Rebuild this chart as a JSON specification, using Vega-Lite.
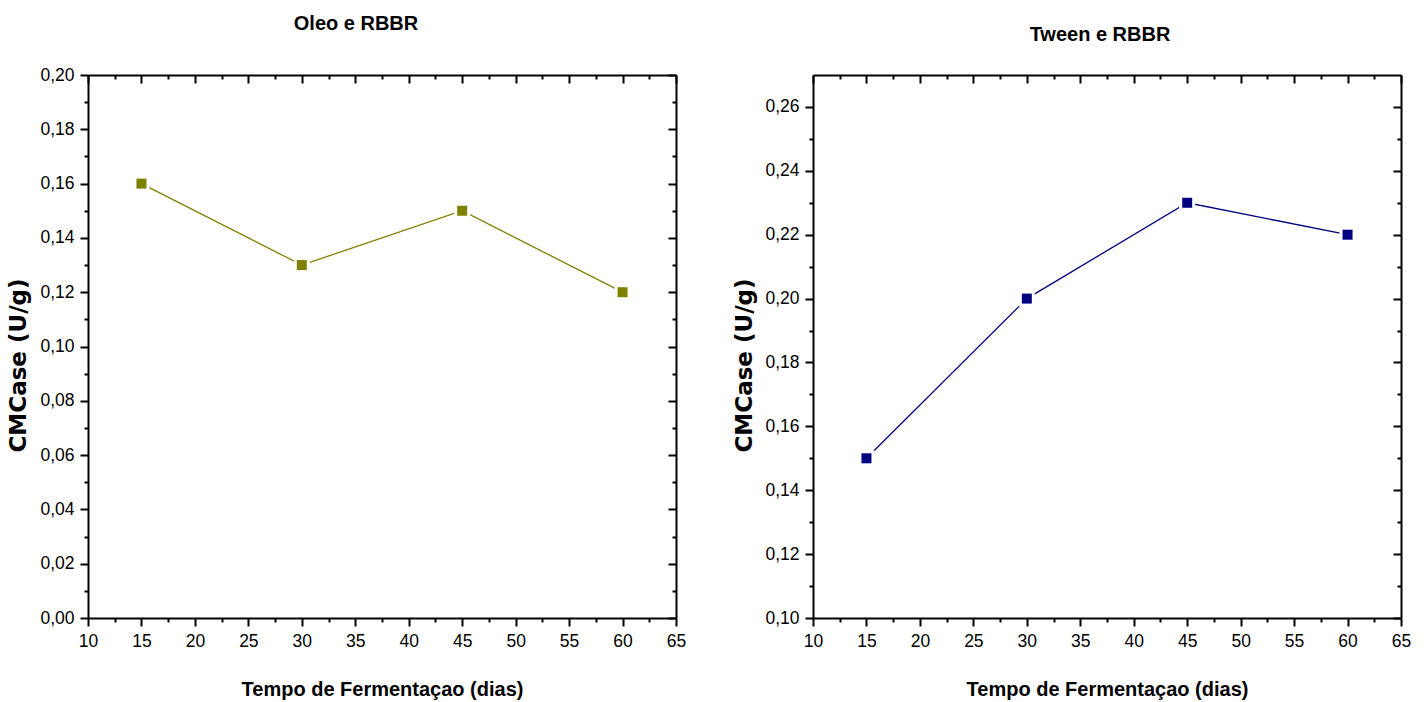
{
  "$schema": "https://vega.github.io/schema/vega-lite/v6.json",
  "background": "white",
  "padding": {"left": 7, "top": 14, "right": 5, "bottom": 5},
  "datasets": {
    "oleo": [
      {"dias": 15, "cmcase": 0.16},
      {"dias": 30, "cmcase": 0.13},
      {"dias": 45, "cmcase": 0.15},
      {"dias": 60, "cmcase": 0.12}
    ],
    "tween": [
      {"dias": 15, "cmcase": 0.15},
      {"dias": 30, "cmcase": 0.20},
      {"dias": 45, "cmcase": 0.23},
      {"dias": 60, "cmcase": 0.22}
    ]
  },
  "spacing": 137,
  "bounds": "flush",
  "config": {
    "view": {"stroke": null},
    "axis": {
      "grid": false,
      "domainColor": "black",
      "domainWidth": 2,
      "tickColor": "black",
      "tickWidth": 2,
      "labelColor": "black",
      "labelFont": "Liberation Sans",
      "labelFontSize": 17.5,
      "titleColor": "black"
    },
    "title": {"font": "Liberation Sans", "fontSize": 20, "fontWeight": "bold", "color": "black", "baseline": "alphabetic", "frame": "group", "anchor": "middle"}
  },
  "hconcat": [
    {
      "width": 588,
      "height": 543,
      "title": {"text": "Oleo e RBBR", "offset": 32, "dx": -26},
      "data": {"name": "oleo"},
      "resolve": {"axis": {"x": "independent", "y": "independent"}},
      "layer": [
        {
          "mark": {"type": "line", "color": "#808000", "strokeWidth": 1.3},
          "encoding": {
            "x": {"field": "dias", "type": "quantitative",
              "scale": {"domain": [10, 65], "nice": false, "zero": false},
              "axis": {"orient": "bottom", "values": [10, 15, 20, 25, 30, 35, 40, 45, 50, 55, 60, 65], "tickSize": 8, "labelPadding": 6, "labelFlush": false,
                "title": "Tempo de Fermentaçao (dias)", "titleFont": "Liberation Sans", "titleFontSize": 20, "titleFontWeight": "bold", "titleBaseline": "alphabetic", "titleY": 77}},
            "y": {"field": "cmcase", "type": "quantitative",
              "scale": {"domain": [0, 0.2], "nice": false, "zero": false},
              "axis": {"orient": "left", "values": [0, 0.02, 0.04, 0.06, 0.08, 0.1, 0.12, 0.14, 0.16, 0.18, 0.2], "tickSize": 8, "labelPadding": 6, "labelFlush": false,
                "labelExpr": "replace(format(datum.value, '.2f'), '.', ',')",
                "title": "CMCase (U/g)", "titleFont": "DejaVu Sans", "titleFontSize": 23, "titleFontWeight": "bold", "titleBaseline": "alphabetic", "titleX": -63, "titleY": 290}}
          }
        },
        {
          "mark": {"type": "point", "shape": "square", "filled": true, "color": "white", "size": 256, "opacity": 1},
          "encoding": {
            "x": {"field": "dias", "type": "quantitative",
              "axis": {"orient": "bottom", "values": [12.5, 17.5, 22.5, 27.5, 32.5, 37.5, 42.5, 47.5, 52.5, 57.5, 62.5], "tickSize": 4, "domain": false, "labels": false, "title": null}},
            "y": {"field": "cmcase", "type": "quantitative",
              "axis": {"orient": "left", "values": [0.01, 0.03, 0.05, 0.07, 0.09, 0.11, 0.13, 0.15, 0.17, 0.19], "tickSize": 4, "domain": false, "labels": false, "title": null}}
          }
        },
        {
          "mark": {"type": "point", "shape": "square", "filled": true, "color": "#808000", "size": 100, "opacity": 1},
          "encoding": {
            "x": {"field": "dias", "type": "quantitative",
              "axis": {"orient": "top", "values": [10, 15, 20, 25, 30, 35, 40, 45, 50, 55, 60, 65], "tickSize": -8, "labels": false, "title": null}},
            "y": {"field": "cmcase", "type": "quantitative",
              "axis": {"orient": "right", "values": [0, 0.02, 0.04, 0.06, 0.08, 0.1, 0.12, 0.14, 0.16, 0.18, 0.2], "tickSize": -8, "labels": false, "title": null}}
          }
        },
        {
          "mark": {"type": "point", "shape": "square", "filled": true, "color": "#808000", "size": 100, "opacity": 0},
          "encoding": {
            "x": {"field": "dias", "type": "quantitative",
              "axis": {"orient": "top", "values": [12.5, 17.5, 22.5, 27.5, 32.5, 37.5, 42.5, 47.5, 52.5, 57.5, 62.5], "tickSize": -4, "domain": false, "labels": false, "title": null}},
            "y": {"field": "cmcase", "type": "quantitative",
              "axis": {"orient": "right", "values": [0.01, 0.03, 0.05, 0.07, 0.09, 0.11, 0.13, 0.15, 0.17, 0.19], "tickSize": -4, "domain": false, "labels": false, "title": null}}
          }
        }
      ]
    },
    {
      "width": 588,
      "height": 543,
      "title": {"text": "Tween e RBBR", "offset": 29, "dx": -7},
      "data": {"name": "tween"},
      "resolve": {"axis": {"x": "independent", "y": "independent"}},
      "layer": [
        {
          "mark": {"type": "line", "color": "#000080", "strokeWidth": 1.3},
          "encoding": {
            "x": {"field": "dias", "type": "quantitative",
              "scale": {"domain": [10, 65], "nice": false, "zero": false},
              "axis": {"orient": "bottom", "values": [10, 15, 20, 25, 30, 35, 40, 45, 50, 55, 60, 65], "tickSize": 8, "labelPadding": 6, "labelFlush": false,
                "title": "Tempo de Fermentaçao (dias)", "titleFont": "Liberation Sans", "titleFontSize": 20, "titleFontWeight": "bold", "titleBaseline": "alphabetic", "titleY": 77}},
            "y": {"field": "cmcase", "type": "quantitative",
              "scale": {"domain": [0.1, 0.27], "nice": false, "zero": false},
              "axis": {"orient": "left", "values": [0.1, 0.12, 0.14, 0.16, 0.18, 0.2, 0.22, 0.24, 0.26], "tickSize": 8, "labelPadding": 6, "labelFlush": false,
                "labelExpr": "replace(format(datum.value, '.2f'), '.', ',')",
                "title": "CMCase (U/g)", "titleFont": "DejaVu Sans", "titleFontSize": 23, "titleFontWeight": "bold", "titleBaseline": "alphabetic", "titleX": -62, "titleY": 290}}
          }
        },
        {
          "mark": {"type": "point", "shape": "square", "filled": true, "color": "white", "size": 256, "opacity": 1},
          "encoding": {
            "x": {"field": "dias", "type": "quantitative",
              "axis": {"orient": "bottom", "values": [12.5, 17.5, 22.5, 27.5, 32.5, 37.5, 42.5, 47.5, 52.5, 57.5, 62.5], "tickSize": 4, "domain": false, "labels": false, "title": null}},
            "y": {"field": "cmcase", "type": "quantitative",
              "axis": {"orient": "left", "values": [0.11, 0.13, 0.15, 0.17, 0.19, 0.21, 0.23, 0.25], "tickSize": 4, "domain": false, "labels": false, "title": null}}
          }
        },
        {
          "mark": {"type": "point", "shape": "square", "filled": true, "color": "#000080", "size": 100, "opacity": 1},
          "encoding": {
            "x": {"field": "dias", "type": "quantitative",
              "axis": {"orient": "top", "values": [10, 15, 20, 25, 30, 35, 40, 45, 50, 55, 60, 65], "tickSize": -8, "labels": false, "title": null}},
            "y": {"field": "cmcase", "type": "quantitative",
              "axis": {"orient": "right", "values": [0.1, 0.12, 0.14, 0.16, 0.18, 0.2, 0.22, 0.24, 0.26], "tickSize": -8, "labels": false, "title": null}}
          }
        },
        {
          "mark": {"type": "point", "shape": "square", "filled": true, "color": "#000080", "size": 100, "opacity": 0},
          "encoding": {
            "x": {"field": "dias", "type": "quantitative",
              "axis": {"orient": "top", "values": [12.5, 17.5, 22.5, 27.5, 32.5, 37.5, 42.5, 47.5, 52.5, 57.5, 62.5], "tickSize": -4, "domain": false, "labels": false, "title": null}},
            "y": {"field": "cmcase", "type": "quantitative",
              "axis": {"orient": "right", "values": [0.11, 0.13, 0.15, 0.17, 0.19, 0.21, 0.23, 0.25], "tickSize": -4, "domain": false, "labels": false, "title": null}}
          }
        }
      ]
    }
  ]
}
